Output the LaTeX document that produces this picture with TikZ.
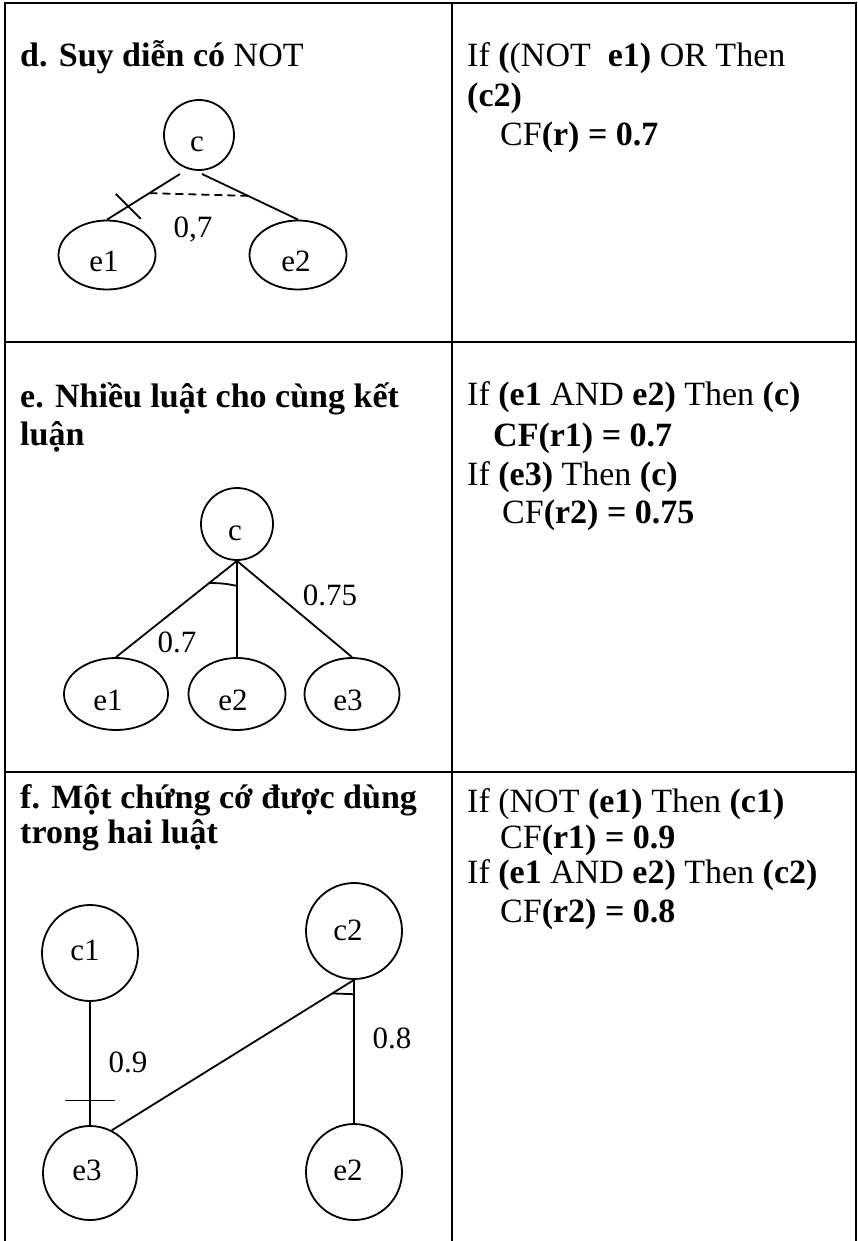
\documentclass[tikz,border=0pt]{standalone}
\usepackage{fontspec}
\setmainfont{Liberation Serif}
\usetikzlibrary{calc,shapes.geometric}
\begin{document}
\begin{tikzpicture}[x=1pt,y=-1pt,
  txt/.style={anchor=base west, inner sep=0pt, font=\fontsize{34}{40}\selectfont},
  lab/.style={anchor=base, inner sep=0pt, font=\fontsize{31}{36}\selectfont},
  grid/.style={line width=2.6pt},
  edge/.style={line width=1.8pt},
  circ/.style={draw, circle, line width=1.8pt, inner sep=0pt, minimum size=#1},
  ell/.style={draw, ellipse, line width=1.8pt, inner sep=0pt, minimum height=69pt, minimum width=#1},
]
\useasboundingbox (0,0) rectangle (858,1241);
% table
\draw[grid] (5,1241) -- (5,3) -- (856,3) -- (856,1241);
\draw[grid] (452,3) -- (452,1241);
\draw[grid] (5,342) -- (856,342);
\draw[grid] (5,772) -- (856,772);

% ---------- panel d ----------
\node[txt] (dt) at (20,67) {\textbf{d. Suy diễn có} NOT};
\node[txt] (dr1) at (467,67) {If \textbf{(}(NOT~ \textbf{e1)} OR Then};
\node[txt] (dr2) at (467,107) {\textbf{(c2)}};
\node[txt] (dr3) at (500,146) {CF\textbf{(r) = 0.7}};

\node[circ=70pt] (dc) at (199,135) {};
\node[ell=97pt] (de1) at (107,255) {};
\node[ell=97pt] (de2) at (298,255) {};
\node[lab] (dcl) at ($(dc)+(-2,17)$) {c};
\node[lab] (de1l) at ($(de1)+(-3,17)$) {e1};
\node[lab] (de2l) at ($(de2)+(-2,17)$) {e2};
\draw[edge] ($(dc)+(-19,39)$) -- coordinate[pos=0.42](dd1) coordinate[pos=0.71](dx) (de1.north);
\draw[edge] ($(dc)+(3,39)$) -- coordinate[pos=0.48](dd2) (de2.north);
\draw[edge, dash pattern=on 8pt off 5pt] (dd1) -- (dd2);
\draw[edge] ($(dx)+(-12.5,-12.5)$) -- ($(dx)+(12.5,12.5)$);
\node[lab] (d07) at (193,238) {0,7};

% ---------- panel e ----------
\node[txt] (et1) at (20,407) {\textbf{e. Nhiều luật cho cùng kết}};
\node[txt] (et2) at (20,445) {\textbf{luận}};
\node[txt] (er1) at (467,405) {If \textbf{(e1} AND \textbf{e2)} Then \textbf{(c)}};
\node[txt] (er2) at (493,446) {\textbf{CF(r1) = 0.7}};
\node[txt] (er3) at (467,485) {If \textbf{(e3)} Then \textbf{(c)}};
\node[txt] (er4) at (502,523) {CF\textbf{(r2) = 0.75}};

\node[circ=72pt] (ec) at (237,524) {};
\node[ell=104pt, minimum height=72pt] (ee1) at (116,694) {};
\node[ell=97pt, minimum height=72pt] (ee2) at (237,694) {};
\node[ell=95pt, minimum height=72pt] (ee3) at (352,694) {};
\node[lab] (ecl) at ($(ec)+(-2,16)$) {c};
\node[lab] (ee1l) at ($(ee1)+(-8,16)$) {e1};
\node[lab] (ee2l) at ($(ee2)+(-4,16)$) {e2};
\node[lab] (ee3l) at ($(ee3)+(-4,16)$) {e3};
\draw[edge] (ec.south) -- coordinate[pos=0.23](ea) (ee1.north);
\draw[edge] (ec.south) -- coordinate[pos=0.26](eb) (ee2.north);
\draw[edge] (ec.south) -- (ee3.north);
\draw[edge] (ea) to[bend left=6] (eb);
\node[lab] (e07) at (177,652) {0.7};
\node[lab] (e075) at (330,605) {0.75};

% ---------- panel f ----------
\node[txt] (ft1) at (20,808) {\textbf{f. Một chứng cớ được dùng}};
\node[txt] (ft2) at (20,843) {\textbf{trong hai luật}};
\node[txt] (fr1) at (467,812) {If (NOT \textbf{(e1)} Then \textbf{(c1)}};
\node[txt] (fr2) at (500,848) {CF\textbf{(r1) = 0.9}};
\node[txt] (fr3) at (467,883) {If \textbf{(e1} AND \textbf{e2)} Then \textbf{(c2)}};
\node[txt] (fr4) at (500,922) {CF\textbf{(r2) = 0.8}};

\node[circ=96pt] (fc1) at (90,953) {};
\node[circ=96pt] (fc2) at (354,931) {};
\node[circ=94pt] (fe3) at (90,1173) {};
\node[circ=96pt] (fe2) at (354,1172) {};
\node[lab] (fc1l) at ($(fc1)+(-5,7)$) {c1};
\node[lab] (fc2l) at ($(fc2)+(-6,9)$) {c2};
\node[lab] (fe3l) at ($(fe3)+(-3,7)$) {e3};
\node[lab] (fe2l) at ($(fe2)+(-6,8)$) {e2};
\draw[edge] (fc1.south) -- coordinate[pos=0.8](ft) (fe3.north);
\draw[edge] ($(ft)+(-25,0)$) -- ($(ft)+(25,0)$);
\draw[edge] (fe3.63) -- coordinate[pos=0.91](fa) (fc2.south);
\draw[edge] (fc2.south) -- coordinate[pos=0.1](fb) (fe2.north);
\draw[edge] (fa) -- (fb);
\node[lab] (f09) at (128,1072) {0.9};
\node[lab] (f08) at (392,1048) {0.8};
\end{tikzpicture}
\end{document}
